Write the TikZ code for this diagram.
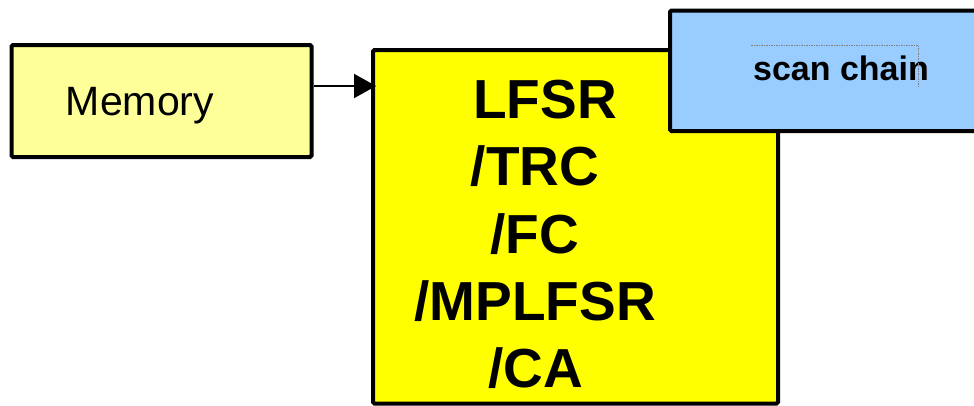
\documentclass[tikz,border=0pt]{standalone}
\usepackage{fontspec}
\setmainfont{Liberation Sans}
\usetikzlibrary{arrows.meta}
\definecolor{memfill}{HTML}{FFFF99}
\definecolor{genfill}{HTML}{FFFF00}
\definecolor{scanfill}{HTML}{99CCFF}
\tikzset{
  boxstyle/.style={draw=black, line width=4pt, rounded corners=1.5pt, rectangle, inner sep=0pt},
  bigtext/.style={font=\bfseries\fontsize{55}{60}\selectfont, anchor=base, inner sep=0pt},
  conn/.style={line width=2pt, -{Triangle[length=22pt,width=24pt]}}
}
\begin{document}
\begin{tikzpicture}[x=1pt,y=-1pt]
\useasboundingbox (0,0) rectangle (974,405);
\clip (0,0) rectangle (974,405);
% generator box
\node[boxstyle, fill=genfill, minimum width=405pt, minimum height=353.5pt] (gen) at (575.5,226.75) {};
% scan chain box
\node[boxstyle, fill=scanfill, minimum width=330pt, minimum height=120.5pt] (scan) at (835,70.75) {};
% memory box
\node[boxstyle, fill=memfill, minimum width=300pt, minimum height=112pt] (mem) at (161.5,101) {};
% texts
\node[font=\fontsize{41}{49}\selectfont, anchor=base, inner sep=0pt] (memtxt) at (140,115) {Memory};
\node[font=\bfseries\fontsize{34}{40}\selectfont, anchor=base, inner sep=0pt] (scantxt) at (841,80) {scan chain};
\node[bigtext] (t1) at (545,118) {LFSR};
\node[bigtext] (t2) at (535,185) {/TRC};
\node[bigtext] (t3) at (535,253) {/FC};
\node[bigtext] (t4) at (535,320) {/MPLFSR};
\node[bigtext] (t5) at (536,387) {/CA};
% faint text frame
\coordinate (fa) at (751,45);
\coordinate (fb) at (918,45);
\coordinate (fc) at (918,88);
\draw[gray, line width=0.6pt, dash pattern=on 1.5pt off 1pt] (fa) -- (fb) -- (fc);
% connector
\coordinate (arrS) at (mem.east |- 0,86);
\coordinate (arrE) at (gen.west |- 0,86);
\draw[conn, shorten >=-5pt] (arrS) -- (arrE);
\end{tikzpicture}
\end{document}
